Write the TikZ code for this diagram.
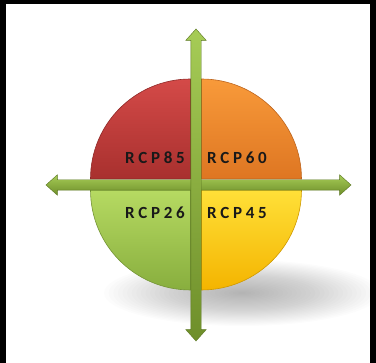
\documentclass[tikz,border=0pt]{standalone}
\usepackage{fontspec}
\setmainfont{Carlito}
\newfontfamily\rcpfont{Carlito}[LetterSpace=22]
\usetikzlibrary{shapes.arrows,positioning}

\definecolor{redtop}{HTML}{D44A48}
\definecolor{redbot}{HTML}{A8302E}
\definecolor{orangetop}{HTML}{F89A3A}
\definecolor{orangebot}{HTML}{DE7622}
\definecolor{greentop}{HTML}{B6DA62}
\definecolor{greenbot}{HTML}{88AE3E}
\definecolor{yellowtop}{HTML}{FFE038}
\definecolor{yellowbot}{HTML}{F4B400}
\definecolor{axislight}{HTML}{A6CC56}
\definecolor{axisdark}{HTML}{6E8E2A}
\definecolor{axisline}{HTML}{5A7620}

\tikzset{
  quadrant/.style={line width=0.6pt},
  rcplabel/.style={font=\rcpfont\bfseries\fontsize{17}{17}\selectfont, inner sep=0pt, text=black!90},
  axisarrow/.style={double arrow, draw=axisline, line width=0.4pt,
    top color=axislight, bottom color=axisdark,
    minimum width=0pt, double arrow head extend=5pt,
    double arrow tip angle=84, inner sep=5pt},
}

\begin{document}
\begin{tikzpicture}[x=1pt,y=1pt]
    \useasboundingbox (0,0) rectangle (376,363);
    % Frame
    \fill[black] (0,359) rectangle (376,363);
    \fill[black] (0,0) rectangle (6,363);
    \fill[black] (370,0) rectangle (376,363);
    % Shadow
    \foreach \r in {1,...,30}
        \fill[black,opacity=0.012] (242,70) ellipse ({4.6*\r} and {1.1*\r});
    % Quadrants
    \coordinate (c) at (196,178.5);
    \shade[quadrant,draw=redbot!85!black,top color=redtop,bottom color=redbot]
        (190.5,184) -- ++(-100,0) arc (180:90:100) -- cycle;
    \shade[quadrant,draw=orangebot!85!black,top color=orangetop,bottom color=orangebot]
        (201.5,184) -- ++(0,100) arc (90:0:100) -- cycle;
    \shade[quadrant,draw=greenbot!85!black,top color=greentop,bottom color=greenbot]
        (190.5,173) -- ++(-100,0) arc (180:270:100) -- cycle;
    \shade[quadrant,draw=yellowbot!85!black,top color=yellowtop,bottom color=yellowbot]
        (201.5,173) -- ++(100,0) arc (0:-90:100) -- cycle;
    % Labels
    \node[rcplabel] (rcp85) at (155,205) {RCP85};
    \node[rcplabel] (rcp60) at (237,205) {RCP60};
    \node[rcplabel] (rcp26) at (155,150) {RCP26};
    \node[rcplabel] (rcp45) at (237,150) {RCP45};
    % Axes
    \node[axisarrow,minimum height=305pt] (xaxis) at (198.5,178) {};
    \node[axisarrow,minimum height=312pt,rotate=90] (yaxis) at (196,178) {};
\end{tikzpicture}
\end{document}
